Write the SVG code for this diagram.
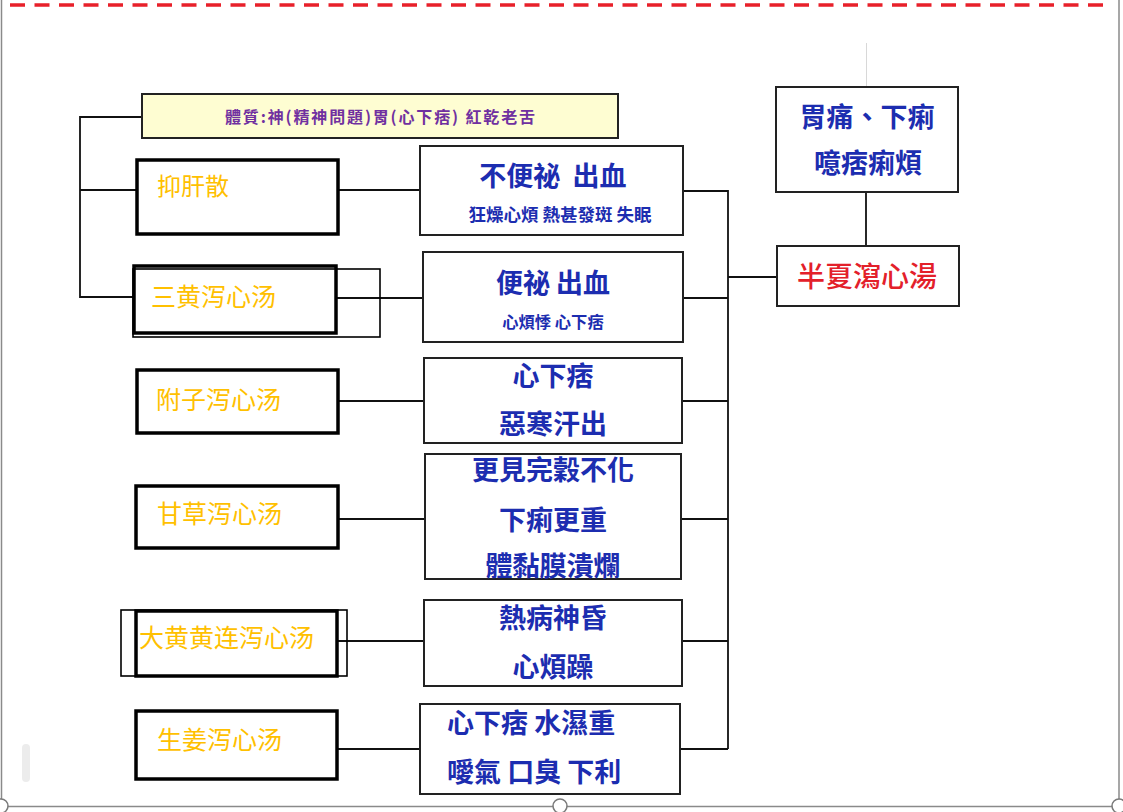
<svg xmlns="http://www.w3.org/2000/svg" width="1123" height="812" viewBox="0 0 1123 812">
<style>
.frame{fill:none;stroke:#8a8a8a;stroke-width:1.5}
.handle{fill:#fff;stroke:#7a7a7a;stroke-width:1.5}
.thick{fill:#fff;stroke:#000;stroke-width:3.5}
.thin{fill:none;stroke:#000;stroke-width:1.6}
.box{fill:#fff;stroke:#222;stroke-width:2}
.ln{fill:none;stroke:#111;stroke-width:1.8}
.or{font-family:"Noto Sans CJK SC","Noto Sans",sans-serif;font-size:24px;fill:#FFC000}
.bl{font-family:"Noto Sans CJK TC","Noto Sans",sans-serif;font-size:27px;font-weight:bold;fill:#1C2DB0;text-anchor:middle}
.bls{font-family:"Noto Sans CJK TC","Noto Sans",sans-serif;font-size:16px;font-weight:bold;fill:#1C2DB0;text-anchor:middle}
.red{font-family:"Noto Sans CJK TC","Noto Sans",sans-serif;font-size:28px;font-weight:500;fill:#E3202A;text-anchor:middle}
.pu{font-family:"Noto Sans CJK TC","Noto Sans",sans-serif;font-size:16px;font-weight:bold;fill:#7030A0;text-anchor:middle}
</style>
<rect width="1123" height="812" fill="#fff"/>
<g id="frame">
<line x1="10" y1="5" x2="1108" y2="5" stroke="#E8202A" stroke-width="3.5" stroke-dasharray="15 9.5"/>
<line class="frame" x1="1.5" y1="0" x2="1.5" y2="806"/>
<line class="frame" x1="1119" y1="0" x2="1119" y2="806"/>
<line class="frame" x1="0" y1="806.5" x2="1123" y2="806.5"/>
<rect x="22" y="744" width="8" height="38" rx="4" fill="#ececec"/>
<circle class="handle" cx="1" cy="806" r="7"/>
<circle class="handle" cx="560" cy="806" r="7"/>
<circle class="handle" cx="1119" cy="806" r="7"/>
<line x1="866.5" y1="43" x2="866.5" y2="87" stroke="#d8d8d8" stroke-width="1"/>
</g>
<g id="connectors">
<polyline class="ln" points="142,117 80,117 80,297 133,297"/>
<line class="ln" x1="80" y1="190" x2="136" y2="190"/>
<line class="ln" x1="338" y1="190" x2="420" y2="190"/>
<line class="ln" x1="336" y1="298" x2="423" y2="298"/>
<line class="ln" x1="338" y1="401" x2="424" y2="401"/>
<line class="ln" x1="338" y1="519" x2="425" y2="519"/>
<line class="ln" x1="337" y1="641" x2="424" y2="641"/>
<line class="ln" x1="337" y1="749" x2="420" y2="749"/>
<line class="ln" x1="728" y1="190" x2="728" y2="749"/>
<line class="ln" x1="683" y1="191" x2="728" y2="191"/>
<line class="ln" x1="683" y1="298" x2="728" y2="298"/>
<line class="ln" x1="682" y1="401" x2="728" y2="401"/>
<line class="ln" x1="681" y1="519" x2="728" y2="519"/>
<line class="ln" x1="682" y1="641" x2="728" y2="641"/>
<line class="ln" x1="680" y1="749" x2="728" y2="749"/>
<line class="ln" x1="728" y1="277" x2="778" y2="277"/>
<line class="ln" x1="866" y1="193" x2="866" y2="246"/>
</g>
<g id="n-tizhi">
<rect x="142" y="94" width="476" height="44" fill="#FEFDD2" stroke="#222" stroke-width="2"/>
<text class="pu" x="380" y="123" textLength="310" lengthAdjust="spacing">體質:神(精神問題)胃(心下痞) 紅乾老舌</text>
</g>
<g id="n-yiganshan">
<rect class="thick" x="137" y="160" width="201" height="74"/>
<text class="or" x="157" y="195">抑肝散</text>
</g>
<g id="n-sanhuang">
<rect class="thick" x="134" y="266" width="202" height="67"/>
<rect class="thin" x="133" y="269" width="247" height="68"/>
<text class="or" x="151" y="306" style="font-size:25px">三黄泻心汤</text>
</g>
<g id="n-fuzi">
<rect class="thick" x="137" y="370" width="201" height="63"/>
<text class="or" x="156" y="409" style="font-size:25px">附子泻心汤</text>
</g>
<g id="n-gancao">
<rect class="thick" x="136" y="486" width="202" height="62"/>
<text class="or" x="157" y="523" style="font-size:25px">甘草泻心汤</text>
</g>
<g id="n-dahuang">
<rect class="thick" x="136" y="611" width="201" height="65"/>
<rect class="thin" x="121" y="610" width="226" height="66"/>
<text class="or" x="139" y="647" style="font-size:25px">大黄黄连泻心汤</text>
</g>
<g id="n-shengjiang">
<rect class="thick" x="136" y="711" width="201" height="68"/>
<text class="or" x="157" y="749" style="font-size:25px">生姜泻心汤</text>
</g>
<g id="s1">
<rect class="box" x="420" y="146" width="263" height="89"/>
<text class="bl" x="553" y="186" xml:space="preserve" style="font-size:27px">不便祕  出血</text>
<text class="bls" x="560" y="221" style="font-size:17.5px">狂燥心煩 熱甚發斑 失眠</text>
</g>
<g id="s2">
<rect class="box" x="423" y="252" width="260" height="90"/>
<text class="bl" x="553" y="293">便祕 出血</text>
<text class="bls" x="553" y="328" style="font-size:16.3px">心煩悸 心下痞</text>
</g>
<g id="s3">
<rect class="box" x="424" y="358" width="258" height="85"/>
<text class="bl" x="553" y="386">心下痞</text>
<text class="bl" x="553" y="434">惡寒汗出</text>
</g>
<g id="s4">
<rect class="box" x="425" y="454" width="256" height="125"/>
<text class="bl" x="553" y="480">更見完穀不化</text>
<text class="bl" x="553" y="530">下痢更重</text>
<text class="bl" x="553" y="576">體黏膜潰爛</text>
</g>
<g id="s5">
<rect class="box" x="424" y="600" width="258" height="86"/>
<text class="bl" x="553" y="628">熱病神昏</text>
<text class="bl" x="553" y="677">心煩躁</text>
</g>
<g id="s6">
<rect class="box" x="420" y="704" width="260" height="90"/>
<text class="bl" x="447" y="733" style="text-anchor:start">心下痞 水濕重</text>
<text class="bl" x="447" y="782" style="text-anchor:start">噯氣 口臭 下利</text>
</g>
<g id="n-symptoms">
<rect class="box" x="776" y="87" width="182" height="105"/>
<text class="bl" x="867" y="127">胃痛、下痢</text>
<text class="bl" x="868" y="173">噫痞痢煩</text>
</g>
<g id="n-banxia">
<rect class="box" x="777" y="246" width="182" height="60"/>
<text class="red" x="867" y="287">半夏瀉心湯</text>
</g>
</svg>
